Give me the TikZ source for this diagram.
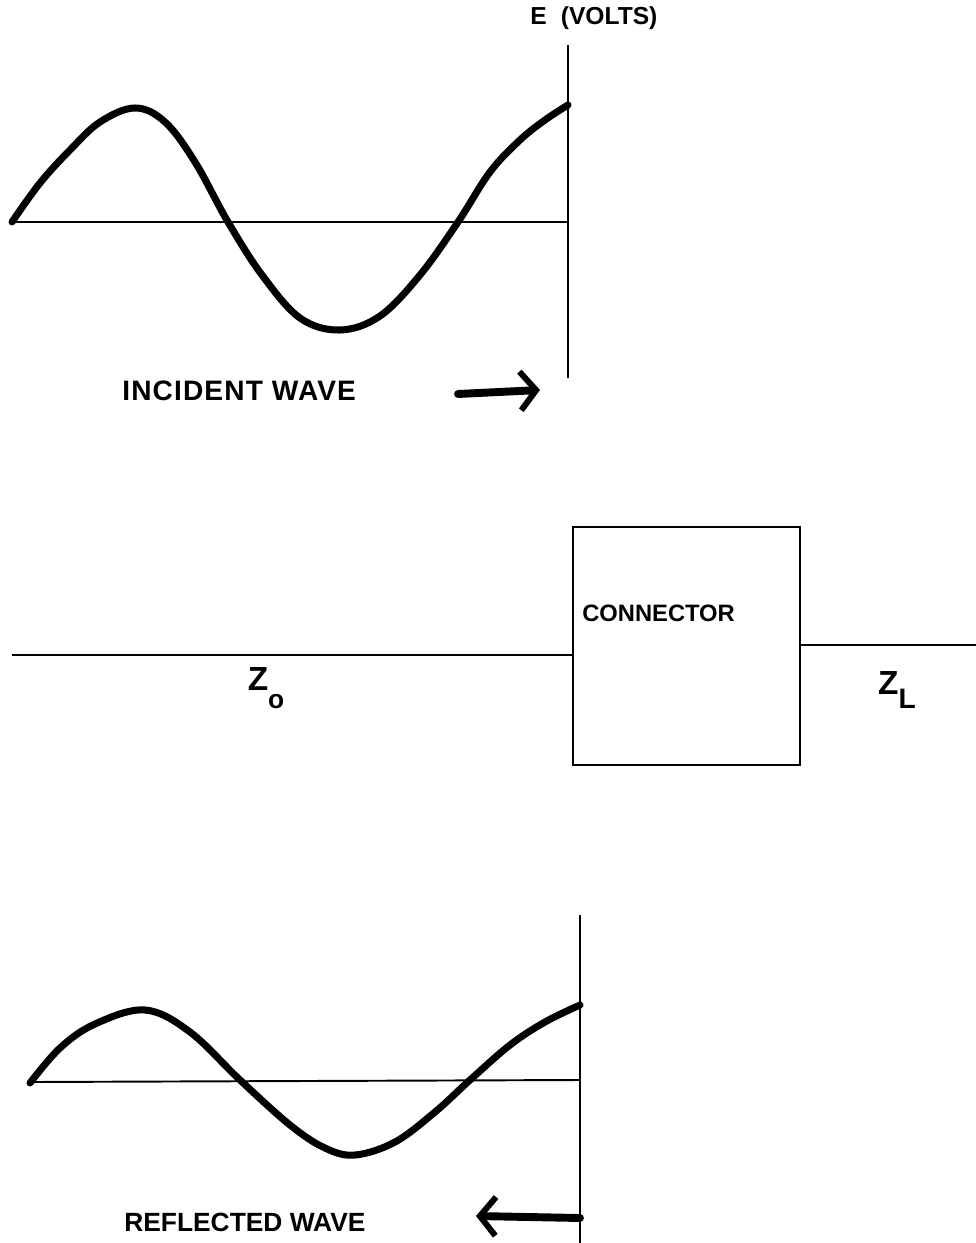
\documentclass[tikz,border=0pt]{standalone}
\usepackage{fontspec}
\setmainfont{Liberation Sans}
\newfontfamily\widefont{Liberation Sans}[LetterSpace=4]
\usetikzlibrary{arrows.meta}
\tikzset{
  wave/.style={line width=4pt, line cap=round, line join=round},
  axisline/.style={line width=1.1pt},
  vline/.style={line width=1.5pt},
  lbl/.style={font=\widefont\fontsize{16}{18}\selectfont\bfseries, inner sep=0pt},
  rlbl/.style={font=\fontsize{15}{17}\selectfont\bfseries, inner sep=0pt},
  elbl/.style={font=\fontsize{14}{16}\selectfont\bfseries, inner sep=0pt},
  boxlbl/.style={font=\fontsize{13.5}{16}\selectfont\bfseries, inner sep=0pt},
  zlbl/.style={font=\fontsize{19}{21}\selectfont\bfseries, inner sep=0pt},
  dirarrow/.style={line width=4.5pt, line cap=round, -{Straight Barb[length=9pt,width=22pt,line width=3.4pt]}},
}
\begin{document}
\begin{tikzpicture}[x=0.02cm,y=-0.02cm]
\useasboundingbox (0,0) rectangle (976,1243);
% ---- incident wave ----
\coordinate (ta0) at (12,222);
\coordinate (ta1) at (568,222);
\coordinate (tv0) at (568,45);
\coordinate (tv1) at (568,378);
\draw[axisline] (ta0) -- (ta1);
\draw[vline] (tv0) -- (tv1);
\draw[wave] plot[smooth, tension=0.6] coordinates {(12,222) (40,183) (70,150) (100,122) (135,108) (165,122) (195,162) (228,222) (262,275) (300,318) (340,330) (380,316) (420,275) (458,222) (490,172) (520,140) (545,120) (568,105)};
\node[elbl, anchor=west] (eV) at (530,18) {E\hspace{8pt}(VOLTS)};
\node[lbl, anchor=west] (inc) at (122,391) {INCIDENT WAVE};
\coordinate (ia0) at (458,394);
\coordinate (ia1) at (540,390);
\draw[dirarrow] (ia0) -- (ia1);
% ---- line and connector ----
\node[draw, line width=1.1pt, minimum width=4.54cm, minimum height=4.76cm, inner sep=0pt] (box) at (686.5,646) {};
\coordinate (l0) at (12,655);
\coordinate (r1) at (976,645);
\draw[axisline] (l0) -- (l0 -| box.west);
\draw[axisline] (r1 -| box.east) -- (r1);
\node[boxlbl, anchor=west] (conn) at (582,613) {CONNECTOR};
\node[zlbl] (z0) at (266,688) {Z\raisebox{-1.0ex}{\fontsize{15}{16}\selectfont o}};
\node[zlbl] (zl) at (897,690) {Z\raisebox{-0.8ex}{\fontsize{16}{17}\selectfont L}};
% ---- reflected wave ----
\coordinate (ba0) at (30,1082);
\coordinate (ba1) at (580,1080);
\coordinate (bv0) at (580,915);
\coordinate (bv1) at (580,1243);
\draw[axisline] (ba0) -- (ba1);
\draw[vline] (bv0) -- (bv1);
\draw[wave] plot[smooth, tension=0.6] coordinates {(30,1083) (60,1048) (95,1024) (145,1010) (190,1032) (240,1080) (290,1125) (325,1148) (355,1155) (395,1142) (435,1112) (470,1080) (510,1045) (545,1022) (580,1005)};
\node[rlbl, anchor=west] (refl) at (124,1222) {REFLECTED WAVE};
\coordinate (ra0) at (580,1218);
\coordinate (ra1) at (476,1216);
\draw[dirarrow] (ra0) -- (ra1);
\end{tikzpicture}
\end{document}
